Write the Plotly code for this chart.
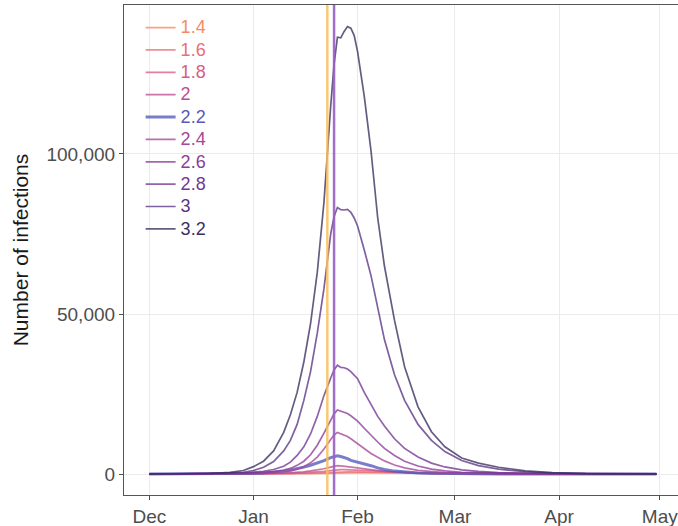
import plotly.graph_objects as go

dates = ["2019-12-01", "2019-12-11", "2019-12-19", "2019-12-25", "2019-12-29",
         "2020-01-01", "2020-01-04", "2020-01-07", "2020-01-10", "2020-01-12",
         "2020-01-14", "2020-01-16", "2020-01-18", "2020-01-20", "2020-01-22",
         "2020-01-24", "2020-01-25", "2020-01-26", "2020-01-27", "2020-01-28",
         "2020-01-29", "2020-01-30", "2020-01-31", "2020-02-01", "2020-02-03",
         "2020-02-05", "2020-02-07", "2020-02-09", "2020-02-12", "2020-02-15",
         "2020-02-19", "2020-02-23", "2020-02-27", "2020-03-03", "2020-03-08",
         "2020-03-14", "2020-03-22", "2020-03-30", "2020-04-09", "2020-04-19",
         "2020-04-30"]

r_labels = ["1.4", "1.6", "1.8", "2", "2.2", "2.4", "2.6", "2.8", "3", "3.2"]
r_colors = ["#F48B64", "#EC6E72", "#DA5C84", "#BC4E8F", "#5659BA",
            "#A54699", "#8B3C98", "#733693", "#5B3584", "#3B2F5E"]

inf_1_4 = [1, 2, 4, 7, 10, 13, 18, 25, 35, 45, 57, 72, 92, 120, 160, 220, 260, 300,
           320, 335, 345, 350, 350, 348, 340, 330, 318, 305, 285, 262, 232, 205, 180,
           150, 125, 98, 70, 50, 32, 20, 12]
inf_1_6 = [1, 2, 5, 9, 14, 20, 30, 45, 70, 90, 120, 160, 215, 290, 400, 560, 640, 700,
           690, 680, 665, 650, 635, 620, 580, 540, 500, 460, 400, 340, 270, 210, 160,
           110, 75, 45, 25, 13, 6, 3, 1]
inf_1_8 = [1, 3, 8, 18, 30, 45, 65, 95, 140, 185, 250, 340, 450, 600, 800, 1050, 1200,
           1400, 1380, 1350, 1300, 1250, 1190, 1130, 1000, 870, 740, 620, 470, 350, 230,
           150, 100, 60, 35, 20, 10, 5, 3, 2, 1]
inf_2_0 = [1, 4, 10, 25, 45, 70, 110, 170, 270, 370, 500, 700, 950, 1250, 1650, 2150,
           2400, 2600, 2550, 2450, 2350, 2200, 2050, 1900, 1600, 1300, 1050, 820, 560,
           380, 230, 140, 90, 50, 30, 15, 8, 4, 2, 1, 1]
inf_2_2 = [2, 8, 25, 60, 120, 200, 320, 500, 900, 1250, 1650, 2150, 2750, 3400, 4200,
           5100, 5500, 5700, 5450, 5150, 4800, 4250, 4000, 3750, 3200, 2600, 1900, 1400,
           900, 600, 350, 220, 140, 80, 50, 30, 15, 8, 5, 3, 2]
inf_2_4 = [2, 8, 25, 60, 110, 170, 260, 420, 700, 1000, 1500, 2300, 3500, 5300, 7800,
           10800, 12200, 13000, 12600, 12200, 11700, 11000, 10200, 9500, 8000, 6400,
           5200, 4100, 2800, 1900, 1150, 700, 430, 250, 150, 80, 40, 20, 10, 5, 3]
inf_2_6 = [2, 12, 35, 90, 170, 280, 450, 750, 1250, 1750, 2700, 4000, 6000, 9000, 12800,
           17000, 18800, 20000, 19600, 19300, 18900, 18200, 17400, 16500, 14300, 12000,
           10000, 8000, 5800, 4000, 2500, 1550, 950, 550, 330, 180, 80, 40, 20, 10, 5]
inf_2_8 = [3, 20, 60, 150, 300, 500, 850, 1400, 2400, 3700, 5800, 8500, 12500, 18000,
           24500, 30000, 32500, 34000, 33300, 33200, 32800, 32000, 31000, 29800, 25500,
           21500, 18000, 15000, 11000, 8000, 5300, 3400, 2200, 1300, 800, 450, 200, 90,
           40, 20, 10]
inf_3_0 = [5, 30, 80, 250, 550, 1100, 2100, 3900, 7200, 10500, 15500, 23000, 32000,
           44000, 58000, 75000, 80500, 83300, 82600, 82500, 82700, 81800, 80000, 77500,
           70000, 62000, 52000, 42000, 31000, 23000, 15500, 10500, 7000, 4200, 2600,
           1500, 700, 320, 120, 50, 20]
inf_3_2 = [10, 50, 150, 500, 1100, 2300, 4000, 7200, 13000, 18500, 25500, 35000, 47000,
           63000, 85000, 115000, 128000, 136500, 136300, 138300, 139800, 139300, 137000,
           132000, 118000, 101000, 80000, 65000, 48000, 33500, 21000, 13200, 8500, 5000,
           3400, 2100, 1000, 450, 120, 50, 20]

series = [inf_1_4, inf_1_6, inf_1_8, inf_2_0, inf_2_2,
          inf_2_4, inf_2_6, inf_2_8, inf_3_0, inf_3_2]

month_ticks = ["2019-12-01", "2020-01-01", "2020-02-01", "2020-03-01",
               "2020-04-01", "2020-05-01"]
month_labels = ["Dec", "Jan", "Feb", "Mar", "Apr", "May"]
y_ticks = [0, 50000, 100000]

event_dates = ["2020-01-23", "2020-01-25"]
event_colors = ["rgba(248,190,90,0.85)", "rgba(150,95,195,0.9)"]

FONT = "Liberation Sans, Arial, sans-serif"

fig = go.Figure()
for lab, col, vals in zip(r_labels, r_colors, series):
    fig.add_trace(go.Scatter(
        x=dates, y=vals, mode="lines",
        name=f'<span style="color:{col};font-size:18px">{lab}</span>',
        line=dict(color=col, width=3 if lab == "2.2" else 1.7),
        opacity=0.78,
    ))

for d, c in zip(event_dates, event_colors):
    fig.add_shape(type="line", xref="x", yref="paper", x0=d, x1=d, y0=0, y1=1,
                  line=dict(color=c, width=2.5), layer="above")

fig.update_layout(
    width=678, height=526,
    margin=dict(l=124, r=0, t=5, b=31),
    paper_bgcolor="white", plot_bgcolor="white",
    font=dict(family=FONT, color="#4D4D4D"),
    showlegend=True,
    legend=dict(x=0.03, y=0.987, xanchor="left", yanchor="top",
                bgcolor="rgba(0,0,0,0)", font=dict(size=14.9, family=FONT),
                traceorder="normal"),
)
fig.update_xaxes(
    range=["2019-11-23 10:48", "2020-05-06 10:00"],
    tickvals=month_ticks, ticktext=month_labels,
    tickfont=dict(size=19, color="#4D4D4D"),
    ticklabeloverflow="allow",
    ticks="outside", ticklen=4, tickcolor="#4D4D4D",
    showgrid=True, gridcolor="#EBEBEB", gridwidth=1,
    showline=True, linecolor="#555555", linewidth=1.2, mirror=True,
    zeroline=False,
)
fig.update_yaxes(
    range=[-6562, 146560],
    tickvals=y_ticks, tickformat=",",
    tickfont=dict(size=19, color="#4D4D4D"),
    ticks="outside", ticklen=4, tickcolor="#4D4D4D",
    showgrid=True, gridcolor="#EBEBEB", gridwidth=1,
    showline=True, linecolor="#555555", linewidth=1.2, mirror=False,
    zeroline=False,
    title=dict(text="Number of infections", font=dict(size=21, color="#1A1A1A"),
               standoff=12),
)

fig.write_html("out.html",
               config={"displayModeBar": False},
               post_script="document.body.style.margin='0px';document.body.style.overflow='hidden';")
